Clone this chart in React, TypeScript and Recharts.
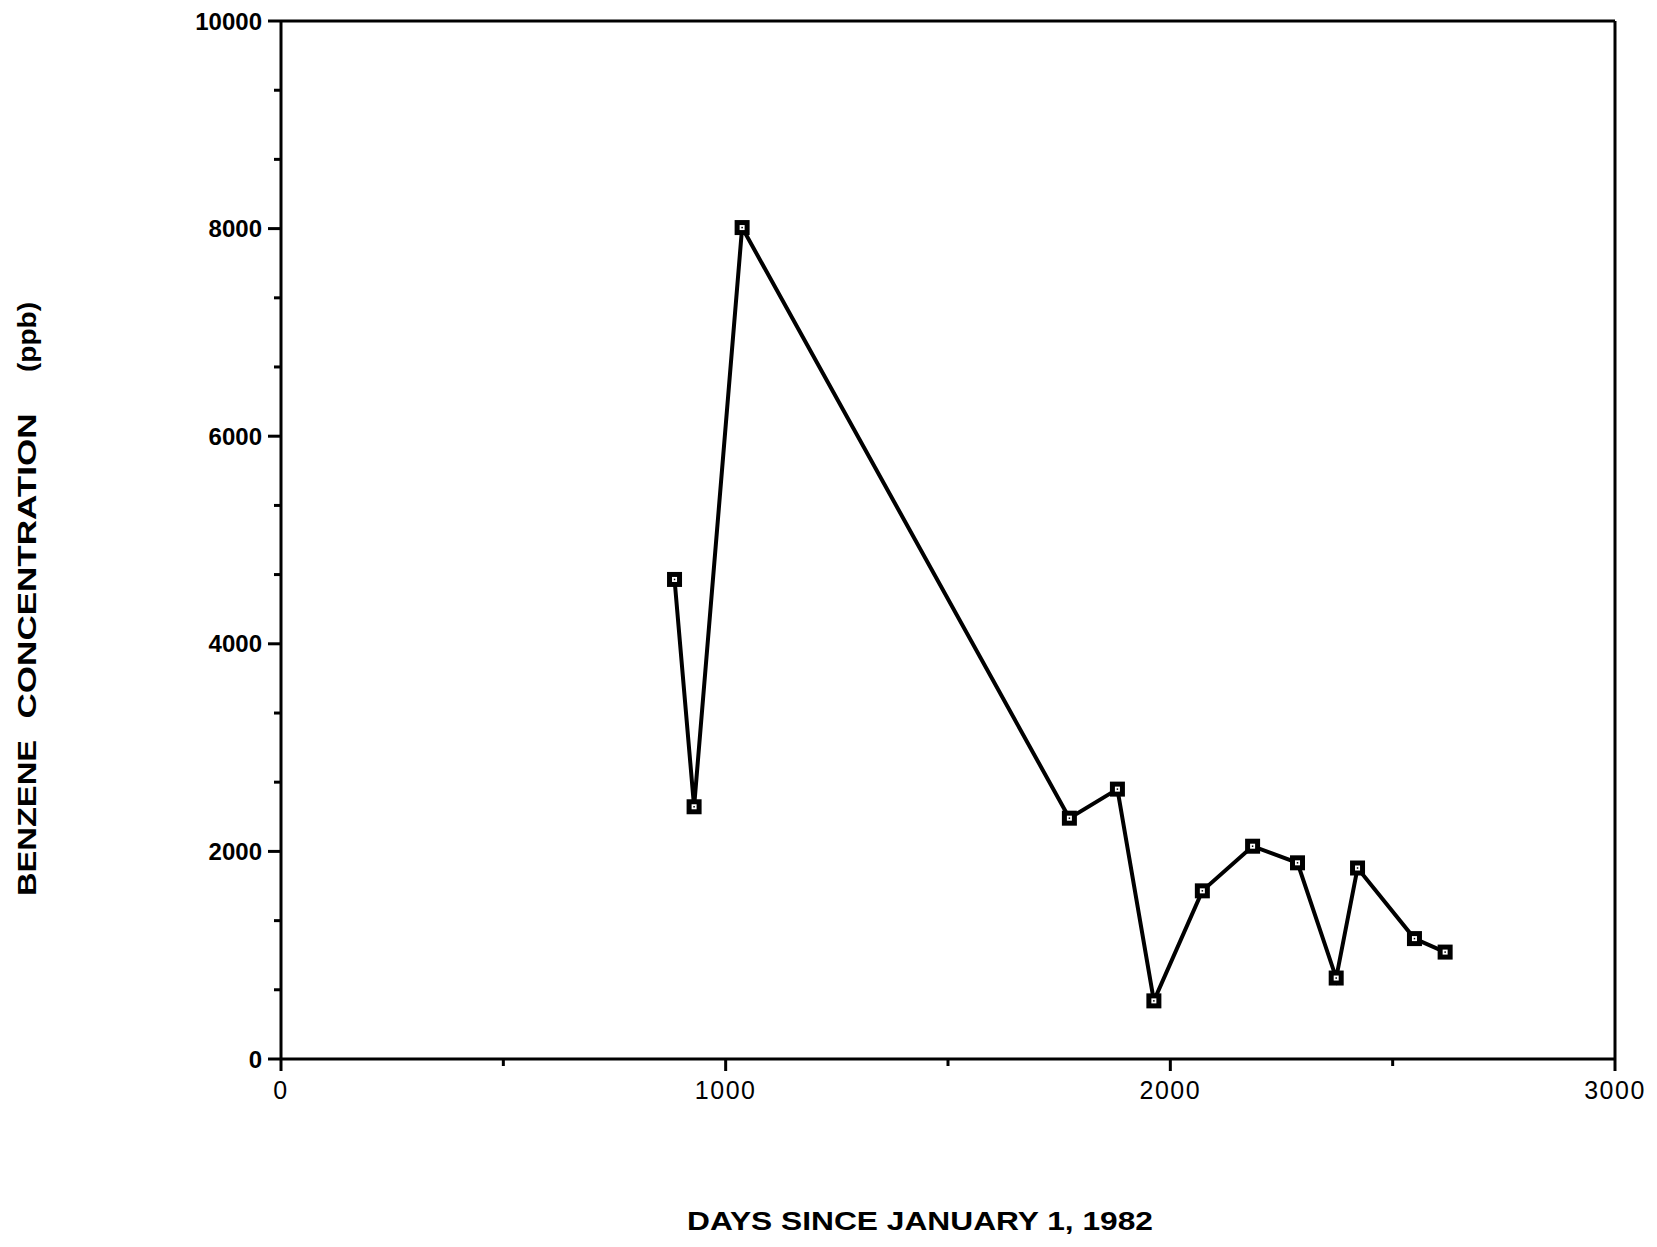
// Benzene concentration vs. days since Jan 1 1982 (scanned report figure)

import { LineChart, Line, XAxis, YAxis, ReferenceLine, Label } from 'recharts';

const days = [885, 929, 1037, 1773, 1881, 1963, 2072, 2185, 2286, 2373, 2421, 2549, 2618];
const benzene = [4620, 2430, 8010, 2320, 2600, 560, 1620, 2050, 1890, 780, 1840, 1160, 1030];

const xTicks = [0, 500, 1000, 1500, 2000, 2500, 3000];
const yTicks = [0, 667, 1333, 2000, 2667, 3333, 4000, 4667, 5333, 6000, 6667, 7333, 8000, 8667, 9333, 10000];

const yTitleWords = ['BENZENE', 'CONCENTRATION', '(ppb)'];

const data = days.map((d, i) => ({ day: d, ppb: benzene[i] }));

const INK = '#000';
const FONT = "'Liberation Sans', Arial, sans-serif";

function YTick({ x, y, payload }: any) {
  const major = payload.value % 2000 === 0;
  return (
    <g>
      <line x1={x - (major ? 13 : 7)} x2={x} y1={y} y2={y} stroke={INK} strokeWidth={3} />
      {major && (
        <text x={x - 19} y={y} textAnchor="end" dominantBaseline="central"
          fontFamily={FONT} fontWeight="bold" fontSize={24} fill={INK}>
          {payload.value}
        </text>
      )}
    </g>
  );
}

function XTick({ x, y, payload }: any) {
  const major = payload.value % 1000 === 0;
  return (
    <g>
      <line x1={x} x2={x} y1={y} y2={y + (major ? 12 : 7)} stroke={INK} strokeWidth={3} />
      {major && (
        <text x={x} y={y + 31} textAnchor="middle" dominantBaseline="central" letterSpacing={1.5}
          fontFamily={FONT} fontSize={25} fill={INK}>
          {payload.value}
        </text>
      )}
    </g>
  );
}

function SquareDot({ cx, cy, index }: any) {
  return (
    <g key={`dot-${index}`}>
      <rect x={cx - 7.5} y={cy - 7.5} width={15} height={15} fill={INK} />
      <rect x={cx - 2.5} y={cy - 2.5} width={5} height={5} fill="#fff" />
      <rect x={cx - 0.75} y={cy - 0.75} width={1.5} height={1.5} fill={INK} />
    </g>
  );
}

// word centres / lengths along the rotated title (chart px)
const yTitleCentres = [810, 558, 329];
const yTitleLengths = [156, 305, 70];

export default function App() {
  return (
    <div style={{ width: 1649, height: 1239, background: '#fff' }}>
      <LineChart width={1649} height={1239} data={data}
        margin={{ top: 13, right: 42, left: 193, bottom: 128 }}>
        <XAxis dataKey="day" type="number" domain={[0, 3000]} ticks={xTicks} interval={0}
          height={60} tickSize={0} tickMargin={0} tickLine={false}
          axisLine={{ stroke: INK, strokeWidth: 3 }} tick={<XTick />}>
          <Label content={() => (
            <text x={912} y={1222} textAnchor="middle" textLength={466} lengthAdjust="spacingAndGlyphs"
              fontFamily={FONT} fontWeight="bold" fontSize={26} fill={INK}>
              DAYS SINCE JANUARY 1, 1982
            </text>
          )} />
        </XAxis>
        <YAxis type="number" domain={[0, 10000]} ticks={yTicks} interval={0}
          width={80} tickSize={0} tickMargin={0} tickLine={false}
          axisLine={{ stroke: INK, strokeWidth: 3 }} tick={<YTick />}>
          <Label content={() => (
            <g>
              {yTitleWords.map((w, i) => (
                <text key={w} x={19} y={yTitleCentres[i]} textAnchor="middle" dominantBaseline="central"
                  transform={`rotate(-90, 19, ${yTitleCentres[i]})`}
                  textLength={yTitleLengths[i]} lengthAdjust="spacingAndGlyphs"
                  fontFamily={FONT} fontWeight="bold" fontSize={26} fill={INK}>
                  {w}
                </text>
              ))}
            </g>
          )} />
        </YAxis>
        <ReferenceLine y={10000} stroke={INK} strokeWidth={3} />
        <ReferenceLine x={3000} stroke={INK} strokeWidth={3} />
        <Line dataKey="ppb" type="linear" stroke={INK} strokeWidth={4}
          dot={<SquareDot />} activeDot={false} isAnimationActive={false} />
      </LineChart>
    </div>
  );
}
